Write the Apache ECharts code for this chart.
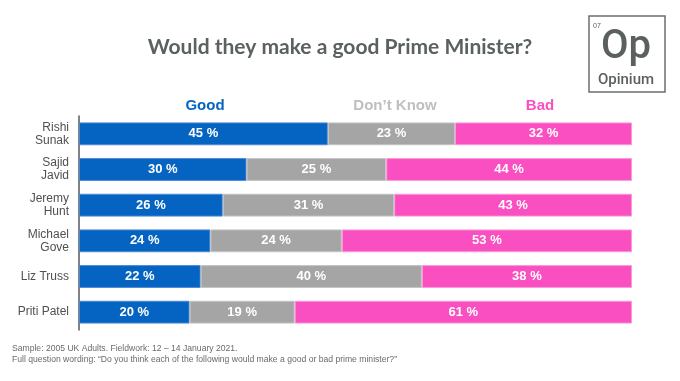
<!DOCTYPE html>
<html><head><meta charset="utf-8">
<script src="https://cdn.jsdelivr.net/npm/echarts@6/dist/echarts.min.js"></script>
<style>html,body{margin:0;padding:0;background:#fff}#c{width:680px;height:381px}</style>
</head><body><div id="c"></div>
<script>
const categories = ["Rishi\nSunak", "Sajid\nJavid", "Jeremy\nHunt", "Michael\nGove", "Liz Truss", "Priti Patel"];
const good = [45, 30, 26, 24, 22, 20];
const dontKnow = [23, 25, 31, 24, 40, 19];
const bad = [32, 44, 43, 53, 38, 61];
const seriesNames = ["Good", "Don\u2019t Know", "Bad"];

const totals = categories.map((_, i) => good[i] + dontKnow[i] + bad[i]);
const share = arr => arr.map((v, i) => v / totals[i] * 100);
const raw = [good, dontKnow, bad];
const colors = ["#0563C1", "#A5A5A5", "#F94FC0"];
const borders = ["#4d8ad6", "#c4c4c4", "#fb9ad9"];

const chart = echarts.init(document.getElementById('c'));
const series = raw.map((arr, k) => ({
  name: seriesNames[k],
  type: 'bar',
  stack: 'all',
  barCategoryGap: '36%',
  data: share(arr),
  itemStyle: { color: colors[k], borderColor: borders[k], borderWidth: 1 },
  label: {
    show: true, position: 'inside', color: '#fff',
    fontFamily: 'Liberation Sans', fontWeight: 'bold', fontSize: 13,
    formatter: p => raw[k][p.dataIndex] + ' %'
  },
  emphasis: { disabled: true }
}));

chart.setOption({
  animation: false,
  grid: { left: 79, right: 48, top: 116, height: 214 },
  xAxis: { type: 'value', min: 0, max: 100, show: false },
  yAxis: {
    type: 'category', data: categories, inverse: true,
    axisLine: { show: true, lineStyle: { color: '#595959', width: 1.5 } },
    axisTick: { show: false },
    axisLabel: { color: '#505050', fontFamily: 'Liberation Sans', fontSize: 12, lineHeight: 13, margin: 10, align: 'right' }
  },
  series: series,
  graphic: [
    { type: 'text', left: 'center', top: 37, style: { text: 'Would they make a good Prime Minister?', fill: '#5b6160', font: 'bold 21px Lato' } },
    { type: 'text', x: 205, y: 106, style: { text: seriesNames[0], fill: colors[0], font: 'bold 15px Liberation Sans', align: 'center', verticalAlign: 'middle' } },
    { type: 'text', x: 395, y: 106, style: { text: seriesNames[1], fill: '#BFBFBF', font: 'bold 15px Liberation Sans', align: 'center', verticalAlign: 'middle' } },
    { type: 'text', x: 540, y: 106, style: { text: seriesNames[2], fill: colors[2], font: 'bold 15px Liberation Sans', align: 'center', verticalAlign: 'middle' } },
    { type: 'rect', shape: { x: 589, y: 16, width: 76, height: 76 }, style: { fill: 'none', stroke: '#6b6f6e', lineWidth: 1.5 } },
    { type: 'text', x: 593, y: 26, style: { text: '07', fill: '#5a605f', font: '7px Liberation Sans', verticalAlign: 'middle' } },
    { type: 'text', x: 626, y: 48, style: { text: 'Op', fill: '#5a605f', font: '500 40px Roboto', align: 'center', verticalAlign: 'middle' } },
    { type: 'text', x: 626, y: 80, style: { text: 'Opinium', fill: '#5a605f', font: '500 15px Roboto', align: 'center', verticalAlign: 'middle' } },
    { type: 'text', x: 12, y: 349, style: { text: 'Sample: 2005 UK Adults. Fieldwork: 12 \u2013 14 January 2021.', fill: '#6a6a6a', font: '8.6px Liberation Sans', verticalAlign: 'middle' } },
    { type: 'text', x: 12, y: 360, style: { text: 'Full question wording: \u201CDo you think each of the following would make a good or bad prime minister?\u201D', fill: '#6a6a6a', font: '8.6px Liberation Sans', verticalAlign: 'middle' } }
  ]
});
</script></body></html>
